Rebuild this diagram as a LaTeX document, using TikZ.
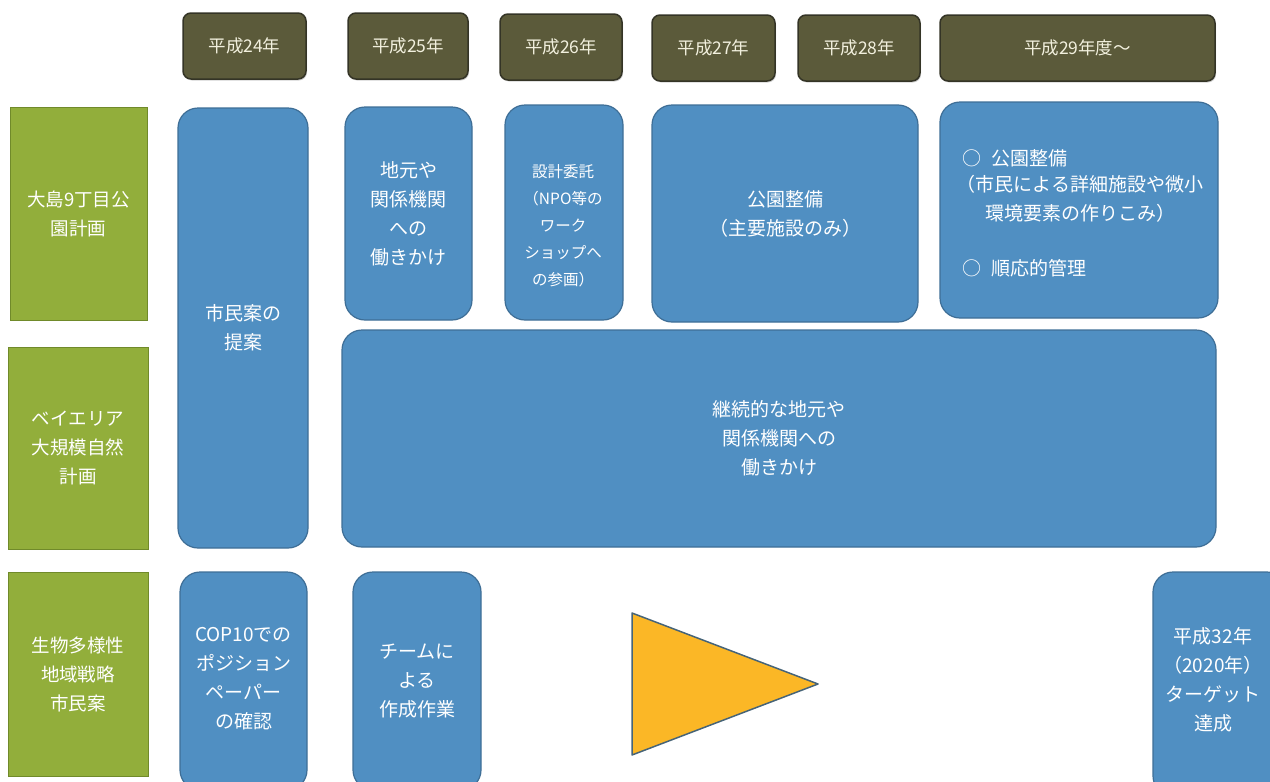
\documentclass[tikz,border=0pt]{standalone}
\usepackage{fontspec}
\setmainfont{Noto Sans CJK JP}
\usetikzlibrary{shadows}
\definecolor{hdrfill}{RGB}{91,90,58}
\definecolor{hdrdraw}{RGB}{52,52,38}
\definecolor{hdrtext}{RGB}{242,240,222}
\definecolor{grnfill}{RGB}{146,174,59}
\definecolor{grndraw}{RGB}{112,138,42}
\definecolor{bluefill}{RGB}{80,143,194}
\definecolor{bluedraw}{RGB}{62,110,150}
\definecolor{yelfill}{RGB}{251,183,38}
\definecolor{yeldraw}{RGB}{70,100,120}
\tikzset{
  hdr/.style={draw=hdrdraw, fill=hdrfill, line width=1.5pt, rounded corners=8pt,
    text=hdrtext, font=\fontsize{17.5}{20}\selectfont, inner sep=0pt,
    drop shadow={shadow xshift=1pt, shadow yshift=-1.5pt, opacity=0.35}},
  grn/.style={draw=grndraw, fill=grnfill, line width=1pt, text=white,
    font=\fontsize{18.5}{29}\selectfont, align=center, inner sep=0pt},
  blu/.style={draw=bluedraw, fill=bluefill, line width=1.2pt, rounded corners=20pt,
    text=white, font=\fontsize{19}{29}\selectfont, align=center, inner sep=0pt},
  txt/.style={text=white, font=\fontsize{19}{29}\selectfont, align=center, inner sep=0pt},
  sz/.style 2 args={minimum width=#1pt, minimum height=#2pt}
}
\begin{document}
\begin{tikzpicture}[x=1pt,y=-1pt]
\useasboundingbox (0,0) rectangle (1270,782);
\clip (0,0) rectangle (1270,782);
% headers
\node[hdr, sz={123}{66}] (h24) at (244.5,46) {平成24年};
\node[hdr, sz={120}{66}] (h25) at (408,46) {平成25年};
\node[hdr, sz={122}{66}] (h26) at (561,47) {平成26年};
\node[hdr, sz={123}{66}] (h27) at (713.5,48) {平成27年};
\node[hdr, sz={122}{66}] (h28) at (859,48) {平成28年};
\node[hdr, sz={275}{66}] (h29) at (1077.5,48) {平成29年度～};
% row labels
\node[grn, sz={137}{213}] (g1) at (78.5,213.5) {大島9丁目公\\園計画};
\node[grn, sz={140}{202}] (g2) at (78,448) {ベイエリア\\大規模自然\\計画};
\node[grn, sz={140}{204}] (g3) at (78,674) {生物多様性\\地域戦略\\市民案};
% blue boxes
\node[blu, sz={130}{440}] (b1) at (243,328) {市民案の\\提案};
\node[blu, sz={127}{213}] (b2) at (408.5,213.5) {地元や\\関係機関\\への\\働きかけ};
\node[blu, sz={118}{215}] (b3) at (564,212.5) {};
\node[txt, font=\fontsize{15.5}{27}\selectfont] (t3) at (563,226) {設計委託\\（NPO等の\\ワーク\\ショップへ\\の参画）};
\node[blu, sz={266}{217}] (b4) at (785,213.5) {公園整備\\（主要施設のみ）};
\node[blu, sz={278}{216}] (b5) at (1079,210) {};
\node[txt, anchor=west] (t5a) at (962,158) {○\hspace{0.55em}公園整備};
\node[txt] (t5b) at (1080,199) {（市民による詳細施設や微小\\環境要素の作りこみ）};
\node[txt, anchor=west] (t5c) at (962,268) {○\hspace{0.55em}順応的管理};
\node[blu, sz={874}{217}] (b6) at (779,438.5) {継続的な地元や\\関係機関への\\働きかけ};
\node[blu, sz={127}{218}] (b7) at (243.5,681) {};
\node[txt] (t7) at (243.5,679) {COP10での\\ポジション\\ペーパー\\の確認};
\node[blu, sz={128}{218}] (b8) at (417,681) {チームに\\よる\\作成作業};
\node[blu, sz={134}{224}] (b9) at (1220,684) {};
\node[txt] (t9) at (1213,680) {平成32年\\（2020年）\\ターゲット\\達成};
% triangle
\coordinate (ta) at (632,613);
\coordinate (tb) at (632,755);
\coordinate (tc) at (818,684);
\draw[fill=yelfill, draw=yeldraw, line width=1.5pt, line join=round] (ta) -- (tc) -- (tb) -- cycle;
\end{tikzpicture}
\end{document}
